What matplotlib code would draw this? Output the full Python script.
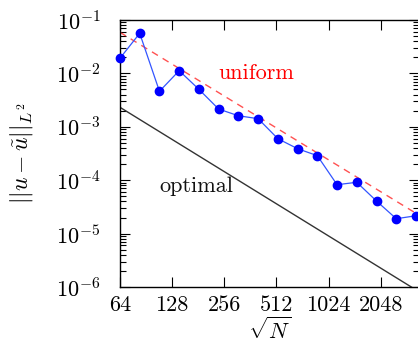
import matplotlib
matplotlib.use("Agg")
import matplotlib.pyplot as plt
from matplotlib.ticker import FixedLocator, NullLocator, LogLocator, FixedFormatter

plt.rcParams['font.family'] = ['cmr10', 'DejaVu Serif']
plt.rcParams['mathtext.fontset'] = 'cm'
plt.rcParams['axes.formatter.use_mathtext'] = True

# data
sqrtN = [64, 83.2, 108.2, 140.6, 182.8, 237.6, 308.9, 401.6, 522.1, 678.7,
         882.3, 1147, 1491, 1939, 2520, 3276]
err = [0.0192, 0.0564, 0.00462, 0.01125, 0.00503, 0.00215, 0.00161, 0.00142,
       0.000599, 0.000389, 0.000288, 8.24e-5, 9.14e-5, 4.07e-5, 1.90e-5, 2.16e-5]
uniform_x = [64, 3276]
uniform_y = [0.0589, 2.40e-5]
optimal_x = [64, 3421]
optimal_y = [2.32e-3, 8.1e-7]
xticks = [64, 128, 256, 512, 1024, 2048]
xticklabels = ['64', '128', '256', '512', '1024', '2048']

fig = plt.figure(figsize=(4.18, 3.42), dpi=100)
ax = fig.add_axes([0.287, 0.1608, 1.003 - 0.287, 0.9415 - 0.1608])

ax.plot(optimal_x, optimal_y, color='#333333', lw=1.0)
ax.plot(uniform_x, uniform_y, color='#ff3333', lw=1.0, ls=(0, (5, 4)), alpha=0.85)
ax.plot(sqrtN, err, color='#3355ff', lw=0.9, marker='o', ms=6,
        markerfacecolor='#0000ff', markeredgecolor='#0000ff', clip_on=False, zorder=3)

ax.set_xscale('log', base=2)
ax.set_yscale('log')
ax.set_xlim(64, 3421)
ax.set_ylim(1e-6, 1e-1)

ax.xaxis.set_major_locator(FixedLocator(xticks))
ax.xaxis.set_major_formatter(FixedFormatter(xticklabels))
ax.xaxis.set_minor_locator(NullLocator())
ax.yaxis.set_major_locator(LogLocator(base=10, numticks=10))
ax.yaxis.set_minor_locator(LogLocator(base=10, subs=range(2, 10), numticks=20))

ax.tick_params(which='both', direction='in', top=True, right=True, labelsize=16)
ax.tick_params(which='major', length=7, width=0.8)
ax.tick_params(which='minor', length=4, width=0.8)
ax.tick_params(axis='y', which='major', pad=14)
ax.tick_params(axis='x', which='major', pad=6)
for s in ax.spines.values():
    s.set_linewidth(1.0)

ax.text(390, 0.0102, 'uniform', color='#ff0000', fontsize=16, ha='center', va='center')
ax.text(176, 7.8e-5, 'optimal', color='#111111', fontsize=16, ha='center', va='center')

ax.set_xlabel(r'$\sqrt{N}$', fontsize=16, labelpad=1)
ax.set_ylabel(r'$||u-\tilde{u}||_{L^2}$', fontsize=17, labelpad=15)

fig.savefig('out.png', dpi=100)
